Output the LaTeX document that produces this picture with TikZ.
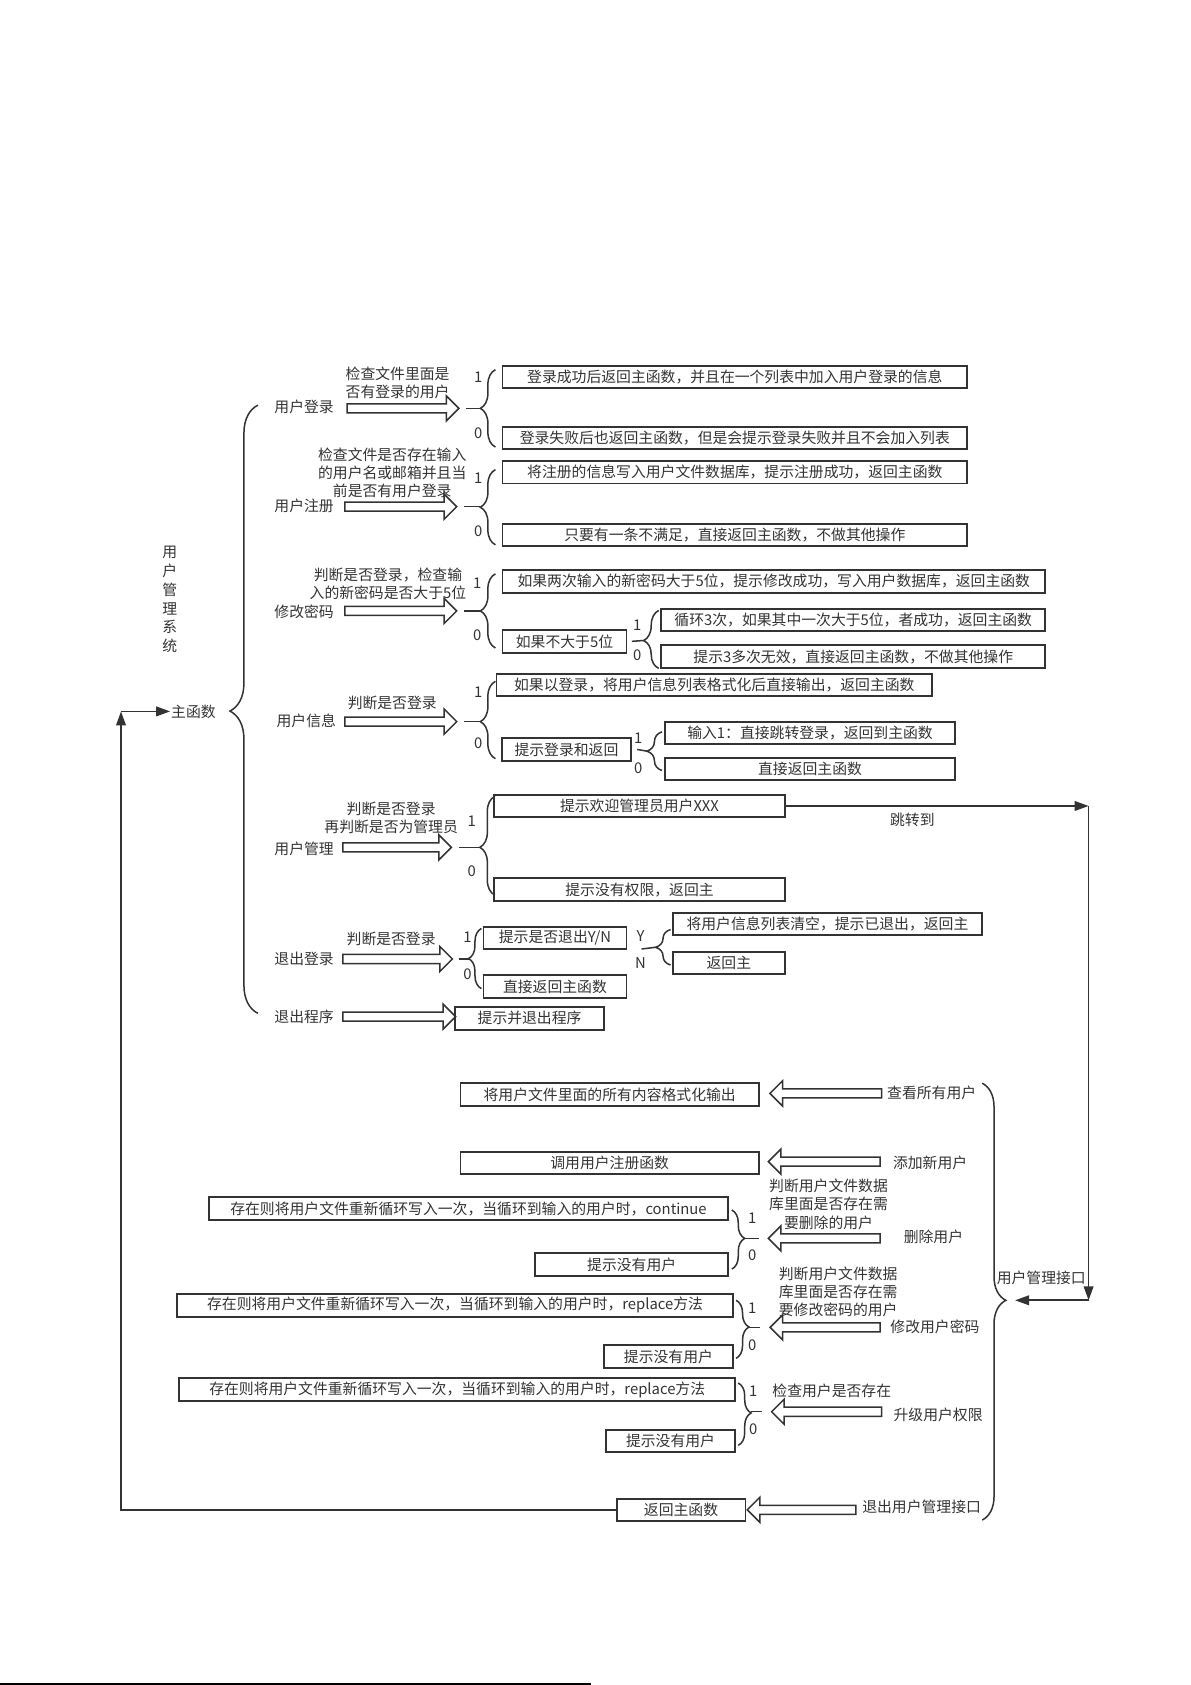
\documentclass[tikz,border=0pt]{standalone}
\usepackage{fontspec}
\setmainfont{Noto Sans CJK SC}
\usepackage{tikz}
\usetikzlibrary{arrows.meta,shapes.arrows,decorations.pathreplacing}
\newcommand{\cnfont}{\fontsize{13.8}{17}\selectfont}
\tikzset{
  txt/.style = {inner sep=1pt, outer sep=0pt, text=black!80, font=\cnfont},
  note/.style = {txt, align=center},% text over the arrows
  bit/.style = {txt},% marks 1 / 0 / Y / N
  cbox/.style = {txt, rectangle, draw=black!80, line width=1.8pt, anchor=west,
    inner sep=0pt, minimum height=21pt, minimum width=#1},% boxes
  harrow/.style = {single arrow, draw=black!80, fill=white, line width=1.4pt,
    single arrow head extend=7.5pt, single arrow tip angle=90,
    inner xsep=0pt, inner ysep=3.5pt, outer sep=0pt, anchor=tail,
    minimum height=#1},% hollow arrow, pointing right
  harrow_l/.style = {harrow=#1, shape border rotate=180},% hollow arrow, pointing left
  brace_s/.style = {draw=black!80, line width=1.4pt, decorate,
    decoration={brace, amplitude=14pt, aspect=#1}},
  brace_s/.default = 0.5,
  brace_t/.style = {draw=black!80, line width=1.4pt, decorate,
    decoration={brace, amplitude=12pt, aspect=#1}},
  brace_t/.default = 0.5,
  wire/.style = {draw=black!80, line width=1.4pt},
  link/.style = {draw=black!80, line width=1.5pt, -{Triangle[length=13pt,width=9pt]}}
}

\begin{document}
\begin{tikzpicture}[x=1pt, y=1pt]
\useasboundingbox (0,0) rectangle (1108,-1568);

% main function and its brace
\node[note, font=\fontsize{13.8}{17.5}\selectfont] (sys) at (158,-558) {用\\户\\管\\理\\系\\统};
\node[txt] (main) at (180,-662) {主函数};
\draw[draw=black!80, line width=1.4pt, decorate,
  decoration={brace, amplitude=26pt, aspect=0.497}] (240,-943) -- (240,-377);

\node[txt] (login) at (283,-379) {用户登录};
\node[txt] (reg) at (283,-471) {用户注册};
\node[txt] (pwd) at (283,-569) {修改密码};
\node[txt] (info) at (285,-671) {用户信息};
\node[txt] (admin) at (283,-790) {用户管理};
\node[txt] (logout) at (283,-892) {退出登录};
\node[txt] (quit) at (283,-946) {退出程序};

\node[harrow=104pt] (arA) at (323,-380) {};
\node[harrow=104pt] (arB) at (321,-471.5) {};
\node[harrow=104pt] (arC) at (321,-568.5) {};
\node[harrow=104pt] (arD) at (321,-671.5) {};
\node[harrow=101pt] (arE) at (319,-788.5) {};
\node[harrow=102pt] (arF) at (319,-892.4) {};
\node[harrow=105pt] (arG) at (319,-946) {};

\node[note] (nA) at (370,-356) {检查文件里面是\\否有登录的用户};
\node[note] (nB) at (365,-440) {检查文件是否存在输入\\的用户名或邮箱并且当\\前是否有用户登录};
\node[note] (nC) at (361,-543) {判断是否登录，检查输\\入的新密码是否大于5位};
\node[note] (nD) at (365,-654) {判断是否登录};
\node[note] (nE) at (364,-761) {判断是否登录\\再判断是否为管理员};
\node[note] (nF) at (364,-874) {判断是否登录};

% 用户登录
\draw[brace_s] (461,-416) -- (461,-344);
\coordinate (tA) at (447,-380);
\draw[wire] ([xshift=7pt]arA.tip) -- (tA);
\node[bit] (a1) at (445,-351) {1};
\node[bit] (a0) at (445,-403) {0};
\node[cbox=432.4pt] (A1) at (467.6,-350.7) {登录成功后返回主函数，并且在一个列表中加入用户登录的信息};
\node[cbox=432.4pt] (A0) at (467.6,-407.5) {登录失败后也返回主函数，但是会提示登录失败并且不会加入列表};

% 用户注册
\draw[brace_s] (461,-507) -- (461,-437);
\coordinate (tB) at (447,-471.5);
\draw[wire] ([xshift=7pt]arB.tip) -- (tB);
\node[bit] (b1) at (445,-445) {1};
\node[bit] (b0) at (445,-494) {0};
\node[cbox=432.4pt] (B1) at (467.6,-439.4) {将注册的信息写入用户文件数据库，提示注册成功，返回主函数};
\node[cbox=432.4pt] (B0) at (467.6,-497.9) {只要有一条不满足，直接返回主函数，不做其他操作};

% 修改密码
\draw[brace_s] (461,-603) -- (461,-534);
\coordinate (tC) at (447,-568.5);
\draw[wire] ([xshift=7pt]arC.tip) -- (tC);
\node[bit] (c1) at (444,-543) {1};
\node[bit] (c0) at (444,-591) {0};
\node[cbox=504.9pt] (C1) at (467.6,-540.9) {如果两次输入的新密码大于5位，提示修改成功，写入用户数据库，返回主函数};
\node[cbox=115.4pt] (C0) at (467.6,-596.8) {如果不大于5位};
\draw[brace_s=0.48] (613,-622) -- (613,-568);
\coordinate (tC0) at (599,-596);
\draw[wire] ([xshift=5pt]C0.east) -- (tC0);
\node[bit] (c01) at (593,-582) {1};
\node[bit] (c00) at (593,-610) {0};
\node[cbox=357pt] (C01) at (615.5,-577) {循环3次，如果其中一次大于5位，者成功，返回主函数};
\node[cbox=357pt] (C00) at (615.5,-611) {提示3多次无效，直接返回主函数，不做其他操作};

% 用户信息
\draw[brace_s=0.479] (461,-706) -- (461,-634);
\coordinate (tD) at (447,-671.5);
\draw[wire] ([xshift=7pt]arD.tip) -- (tD);
\node[bit] (d1) at (445,-644) {1};
\node[bit] (d0) at (445,-692) {0};
\node[cbox=405.5pt] (D1) at (462,-637.4) {如果以登录，将用户信息列表格式化后直接输出，返回主函数};
\node[cbox=119.8pt] (D0) at (467.2,-697.4) {提示登录和返回};
\draw[brace_s] (616,-717) -- (616,-681);
\coordinate (tD0) at (602,-699);
\draw[wire] ([xshift=6pt]D0.east) -- (tD0);
\node[bit] (d01) at (594,-687) {1};
\node[bit] (d00) at (594,-715) {0};
\node[cbox=270.4pt] (D01) at (618.6,-682.2) {输入1：直接跳转登录，返回到主函数};
\node[cbox=270.4pt] (D00) at (618.6,-715.5) {直接返回主函数};

% 用户管理
\draw[brace_s=0.484] (460.5,-833) -- (460.5,-741);
\coordinate (tE) at (446.5,-788.5);
\draw[wire] ([xshift=7pt]arE.tip) -- (tE);
\node[bit] (e1) at (439,-764) {1};
\node[bit] (e0) at (439,-811) {0};
\node[cbox=270.4pt] (E1) at (459.9,-750) {提示欢迎管理员用户XXX};
\node[cbox=270.4pt] (E0) at (459.9,-827.8) {提示没有权限，返回主};
\node[txt] (jump) at (849,-763) {跳转到};

% 退出登录
\draw[brace_t] (448,-920) -- (448,-864);
\coordinate (tF) at (436,-892.4);
\draw[wire] ([xshift=6pt]arF.tip) -- (tF);
\node[bit] (f1) at (435,-872) {1};
\node[bit] (f0) at (435,-907) {0};
\node[cbox=133.1pt] (F1) at (449.9,-872.8) {提示是否退出Y/N};
\node[cbox=133.1pt] (F0) at (449.9,-917.9) {直接返回主函数};
\draw[brace_s] (624,-898) -- (624,-865);
\coordinate (tF1) at (610,-881.5);
\draw[wire] ([xshift=14pt,yshift=0.2pt]F1.south east) -- (tF1);
\node[bit] (fy) at (596,-871) {Y};
\node[bit] (fn) at (596,-896) {N};
\node[cbox=287.6pt] (F11) at (626.2,-860) {将用户信息列表清空，提示已退出，返回主};
\node[cbox=104.1pt] (F10) at (626.2,-896) {返回主};

% 退出程序
\node[cbox=138.4pt] (G) at (423.6,-947.6) {提示并退出程序};

% 用户管理接口
\draw[draw=black!80, line width=1.4pt, decorate,
  decoration={brace, amplitude=22pt, aspect=0.497}] (914,-1008) -- (914,-1414.5);
\node[txt] (mgr) at (969,-1189) {用户管理接口};

\node[txt] (all) at (867,-1017) {查看所有用户};
\node[harrow_l=104pt] (arH) at (820.5,-1017.5) {};
\node[cbox=277.7pt] (H) at (428.5,-1018.6) {将用户文件里面的所有内容格式化输出};

\node[txt] (add) at (865.5,-1082) {添加新用户};
\node[harrow_l=104pt] (arI) at (819,-1081) {};
\node[cbox=277.7pt] (I) at (428.5,-1082.2) {调用用户注册函数};

\node[txt] (del) at (868.6,-1151) {删除用户};
\node[harrow_l=104pt] (arJ) at (819,-1152.4) {};
\node[note] (nJ) at (771,-1120.5) {判断用户文件数据\\库里面是否存在需\\要删除的用户};
\draw[brace_t=0.48] (681,-1126) -- (681,-1181);
\coordinate (tJ) at (693,-1152.4);
\draw[wire] (tJ) -- ([xshift=-9pt]arJ.tip);
\node[bit] (j1) at (700,-1134) {1};
\node[bit] (j0) at (700,-1168) {0};
\node[cbox=483.7pt] (J1) at (194.1,-1124.8) {存在则将用户文件重新循环写入一次，当循环到输入的用户时，continue};
\node[cbox=179.9pt] (J0) at (497.9,-1176.6) {提示没有用户};

\node[txt] (chg) at (870,-1235) {修改用户密码};
\node[harrow_l=102.4pt] (arK) at (819,-1235.2) {};
\node[note] (nK) at (780,-1202) {判断用户文件数据\\库里面是否存在需\\要修改密码的用户};
\draw[brace_t=0.46] (685,-1210) -- (685,-1264);
\coordinate (tK) at (697,-1235.2);
\draw[wire] (tK) -- ([xshift=-9pt]arK.tip);
\node[bit] (k1) at (700,-1217) {1};
\node[bit] (k0) at (700,-1252) {0};
\node[cbox=517.1pt] (K1) at (164.9,-1214.7) {存在则将用户文件重新循环写入一次，当循环到输入的用户时，replace方法};
\node[cbox=120pt] (K0) at (562,-1262.2) {提示没有用户};

\node[txt] (up) at (873,-1317) {升级用户权限};
\node[harrow_l=102.5pt] (arL) at (820.5,-1313.7) {};
\node[note] (nL) at (774,-1294) {检查用户是否存在};
\draw[brace_t=0.48] (687,-1287) -- (687,-1345);
\coordinate (tL) at (699,-1313.7);
\draw[wire] (tL) -- ([xshift=-9pt]arL.tip);
\node[bit] (l1) at (701,-1295) {1};
\node[bit] (l0) at (701,-1330) {0};
\node[cbox=517.5pt] (L1) at (166.7,-1293.2) {存在则将用户文件重新循环写入一次，当循环到输入的用户时，replace方法};
\node[cbox=120.4pt] (L0) at (563.8,-1341) {提示没有用户};

\node[txt] (leave) at (857.6,-1402) {退出用户管理接口};
\node[harrow_l=101pt] (arM) at (796.4,-1405) {};
\node[cbox=119.9pt] (M) at (573.8,-1405) {返回主函数};

% jumps
\coordinate (cR1) at (1013,-750);
\coordinate (cR2) at (1013,-1210);
\coordinate (cMgr) at (944.6,-1210);
\coordinate (cL1) at (112.6,-662);
\draw[link] (E1.east) -- (cR1);
\draw[link] (cR1) -- (cR2);
\draw[link] (cR2) -- (cMgr);
\draw[link] (M.west) -| (cL1);
\draw[link] (cL1) -- (main.west);

\draw[line width=1.5pt] (0,-1567) -- (550,-1567);
\end{tikzpicture}
\end{document}
